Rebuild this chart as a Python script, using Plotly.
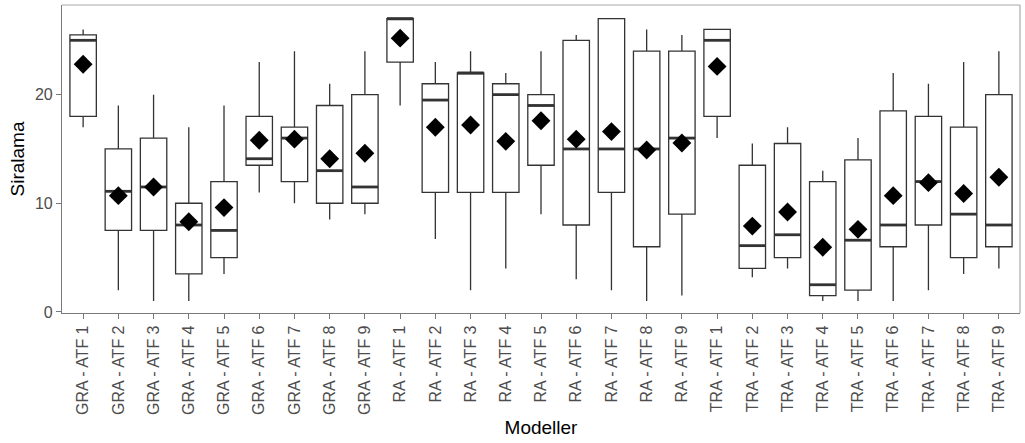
import plotly.graph_objects as go

categories = [
    "GRA - ATF 1", "GRA - ATF 2", "GRA - ATF 3", "GRA - ATF 4", "GRA - ATF 5",
    "GRA - ATF 6", "GRA - ATF 7", "GRA - ATF 8", "GRA - ATF 9",
    "RA - ATF 1", "RA - ATF 2", "RA - ATF 3", "RA - ATF 4", "RA - ATF 5",
    "RA - ATF 6", "RA - ATF 7", "RA - ATF 8", "RA - ATF 9",
    "TRA - ATF 1", "TRA - ATF 2", "TRA - ATF 3", "TRA - ATF 4", "TRA - ATF 5",
    "TRA - ATF 6", "TRA - ATF 7", "TRA - ATF 8", "TRA - ATF 9",
]

lower_whisker = [17, 2, 1, 1, 3.5, 11, 10, 8.5, 9,
                 19, 6.7, 2, 4, 9, 3, 2, 1, 1.5,
                 16, 3.2, 4, 1, 1, 1, 2, 3.5, 4]
q1 = [18, 7.5, 7.5, 3.5, 5, 13.5, 12, 10, 10,
      23, 11, 11, 11, 13.5, 8, 11, 6, 9,
      18, 4, 5, 1.5, 2, 6, 8, 5, 6]
median = [25, 11.1, 11.5, 8, 7.5, 14.1, 16, 13, 11.5,
          27, 19.5, 22, 20, 19, 15, 15, 15, 16,
          25, 6.1, 7.1, 2.5, 6.6, 8, 12, 9, 8]
q3 = [25.5, 15, 16, 10, 12, 18, 17, 19, 20,
      27, 21, 22, 21, 20, 25, 27, 24, 24,
      26, 13.5, 15.5, 12, 14, 18.5, 18, 17, 20]
upper_whisker = [26, 19, 20, 17, 19, 23, 24, 21, 24,
                 27, 23, 24, 22, 24, 25.5, 27, 26, 25.5,
                 26, 15.5, 17, 13, 16, 22, 21, 23, 24]
mean = [22.8, 10.7, 11.5, 8.3, 9.6, 15.8, 15.9, 14.1, 14.6,
        25.2, 17.0, 17.2, 15.7, 17.6, 15.9, 16.6, 14.9, 15.55,
        22.6, 7.9, 9.2, 5.95, 7.6, 10.7, 11.9, 10.9, 12.4]

positions = list(range(1, len(categories) + 1))
box_width = 0.75
line_col = "#333333"

fig = go.Figure()

fig.add_trace(go.Box(
    x=positions,
    q1=q1, median=median, q3=q3,
    lowerfence=lower_whisker, upperfence=upper_whisker,
    width=box_width,
    whiskerwidth=0,
    fillcolor="white",
    line=dict(color=line_col, width=1.3),
    showlegend=False,
    hoverinfo="skip",
))

# thicker median segments (ggplot style)
mx, my = [], []
for p, m in zip(positions, median):
    mx += [p - box_width / 2, p + box_width / 2, None]
    my += [m, m, None]
fig.add_trace(go.Scatter(
    x=mx, y=my, mode="lines",
    line=dict(color=line_col, width=2.8),
    showlegend=False, hoverinfo="skip",
))

fig.add_trace(go.Scatter(
    x=positions, y=mean, mode="markers",
    marker=dict(symbol="diamond", size=14.5, color="black",
                line=dict(width=0)),
    showlegend=False, hoverinfo="skip",
))

font_family = "Liberation Sans, Arial, sans-serif"

fig.update_layout(
    width=1025, height=443,
    margin=dict(l=62, r=5, t=5, b=130, autoexpand=False),
    paper_bgcolor="white", plot_bgcolor="white",
    font=dict(family=font_family, color="black"),
    xaxis=dict(
        range=[0.4, len(categories) + 0.6],
        tickmode="array", tickvals=positions, ticktext=categories,
        tickangle=-90,
        tickfont=dict(size=16, color="#4D4D4D"),
        ticks="outside", ticklen=5, tickcolor="#777777", tickwidth=1,
        showgrid=False, zeroline=False,
        showline=True, linecolor="#7a7a7a", linewidth=1.2,
        title=dict(text="Modeller", font=dict(size=19, color="black"), standoff=6),
        automargin=False,
    ),
    yaxis=dict(
        range=[-0.1, 28.25],
        tickmode="array", tickvals=[0, 10, 20], ticktext=["0", "10", "20"],
        tickfont=dict(size=16, color="#4D4D4D"),
        ticks="outside", ticklen=5, tickcolor="#777777", tickwidth=1,
        showgrid=False, zeroline=False,
        showline=True, linecolor="#7a7a7a", linewidth=1.2,
        title=dict(text="Siralama", font=dict(size=19, color="black"), standoff=5),
        automargin=False,
    ),
    shapes=[
        dict(type="line", xref="paper", yref="paper", x0=0, x1=1, y0=1, y1=1,
             line=dict(color="#aaaaaa", width=1.2)),
        dict(type="line", xref="paper", yref="paper", x0=1, x1=1, y0=0, y1=1,
             line=dict(color="#aaaaaa", width=1.2)),
    ],
)

fig.write_html(
    "out.html",
    config={"displayModeBar": False},
    post_script="document.body.style.margin='0px';document.body.style.overflow='hidden';",
)
